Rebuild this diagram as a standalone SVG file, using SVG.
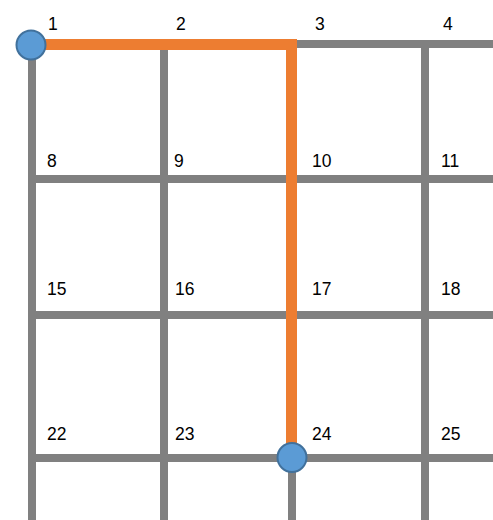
<svg xmlns="http://www.w3.org/2000/svg" width="493" height="520" viewBox="0 0 493 520">
<style>
.g{stroke:#808080;stroke-width:8;fill:none}
.p{stroke:#ED7D31;stroke-width:11;fill:none;stroke-linejoin:miter}
.n{fill:#5B9BD5;stroke:#41719C;stroke-width:2}
text{font-family:"Liberation Sans",Arial,sans-serif;font-size:17.5px;fill:#000}
</style>
<rect width="493" height="520" fill="#fff"/>
<g id="connectors">
<line class="g" x1="32" y1="44" x2="32" y2="520"/>
<line class="g" x1="164" y1="44" x2="164" y2="520"/>
<line class="g" x1="292" y1="44" x2="292" y2="520"/>
<line class="g" x1="425" y1="44" x2="425" y2="520"/>
<line class="g" x1="32" y1="44" x2="493" y2="44"/>
<line class="g" x1="32" y1="179" x2="493" y2="179"/>
<line class="g" x1="32" y1="315" x2="493" y2="315"/>
<line class="g" x1="32" y1="458" x2="493" y2="458"/>
<polyline class="p" points="32,44.5 291.5,44.5 291.5,458"/>
</g>
<g id="labels">
<text x="48" y="30">1</text><text x="176" y="30">2</text><text x="315" y="30">3</text><text x="443" y="30">4</text>
<text x="47" y="166.5">8</text><text x="174" y="166.5">9</text><text x="312" y="166.5">10</text><text x="441" y="166.5">11</text>
<text x="47" y="294.5">15</text><text x="175" y="294.5">16</text><text x="312" y="294.5">17</text><text x="441" y="294.5">18</text>
<text x="47" y="439.5">22</text><text x="175" y="439.5">23</text><text x="312" y="439.5">24</text><text x="441" y="439.5">25</text>
</g>
<g id="node-start"><circle class="n" cx="31" cy="45" r="14.5"/></g>
<g id="node-end"><circle class="n" cx="292" cy="457.5" r="14.5"/></g>
</svg>
